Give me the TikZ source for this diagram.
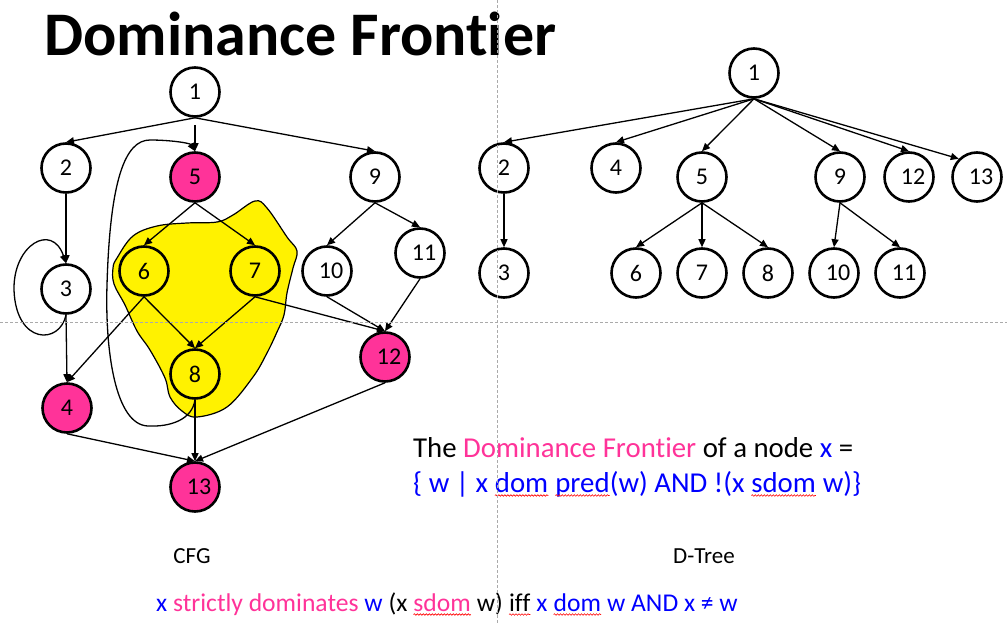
\documentclass[tikz,border=0pt]{standalone}
\usepackage{fontspec}
\setmainfont{Carlito}[Ligatures=NoCommon]
\usetikzlibrary{arrows.meta,decorations.pathmorphing}

\definecolor{dfpink}{HTML}{FF3399}
\definecolor{dfblue}{HTML}{0000FF}
\definecolor{guidegray}{HTML}{AAAAAA}

% red spell-check squiggle under a word
\newcommand\spellwave[1]{\tikz[baseline=(sw.base)]{\node[inner sep=0pt, outer sep=0pt, anchor=base, draw=none, fill=none] (sw) {#1};
  \draw[red, line width=0.6pt, decorate, decoration={snake, amplitude=0.8pt, segment length=3pt}]
    ([yshift=-3.5pt]sw.base west) -- ([yshift=-3.5pt]sw.base east);}}

\begin{document}
\begin{tikzpicture}[
  x=1pt, y=-1pt,
  font=\fontsize{24}{27}\selectfont,
  vert/.style={circle, draw, line width=2.6pt, minimum size=49pt, inner sep=0pt, fill=white},
  hit/.style={vert, fill=dfpink},
  region/.style={vert, fill=yellow},
  wide/.style={execute at begin node=\hspace*{8pt}},
  edge/.style={-{Triangle[length=8pt,width=7pt]}, line width=1.3pt},
  guide/.style={draw=guidegray, line width=0.8pt, dash pattern=on 3pt off 2pt},
  caption/.style={anchor=base, inner sep=0pt, font=\fontsize{23}{26}\selectfont}
]
\useasboundingbox[fill=white] (0,0) rectangle (1007,624);

\node[anchor=base west, inner sep=0pt, font=\fontsize{62}{70}\selectfont\bfseries] (title) at (44,55) {Dominance Frontier};

% region dominated by 5
\draw[fill=yellow, line width=1.2pt] plot[smooth cycle, tension=0.6] coordinates {
  (255,201) (267,208) (287,237) (297,251) (293,268) (287,293) (284,315) (277,332)
  (267,353) (253,377) (227,407) (197,417) (182,411) (170,397) (165,378) (150,350)
  (137,331) (125,305) (114,284) (113,268) (117,258) (133,236) (157,226) (187,223)
  (217,222) (233,215)};

% CFG
\node[vert] (c1) at (195,92) {1};
\node[vert] (c2) at (66,168) {2};
\node[hit] (c5) at (195,177) {5};
\node[vert] (c9) at (375,177) {9};
\node[vert] (c3) at (66,289) {3};
\node[region] (c6) at (144,271) {6};
\node[region] (c7) at (255,271) {7};
\node[vert, wide] (c10) at (327,271) {10};
\node[vert, wide] (c11) at (420,253) {11};
\node[region] (c8) at (195,374) {8};
\node[hit, wide] (c12) at (385,357) {12};
\node[hit] (c4) at (67,408) {4};
\node[hit, wide] (c13) at (195,487) {13};

\draw[edge] (c1.south) -- (c2.north);
\draw[edge, shorten <=7pt] (c1.south) -- (c5.north);
\draw[edge] (c1.south) -- (c9.north);
\draw[edge] (c2.south) -- (c3.north);
\draw[edge] (c3.south) .. controls (60,345) and (16,345) .. (14,290)
  .. controls (13,245) and (52,222) .. (c3.north);
\draw[edge] (c3.south) -- (c4.north);
\draw[edge] (c5.south) -- (c6.north);
\draw[edge] (c5.south) -- (c7.north);
\draw[edge] (c6.south) -- (c8.north);
\draw[edge] (c7.south) -- (c8.north);
\draw[edge] (c6.south) -- (c4.north);
\draw[edge] (c7.south) -- (c12.north);
\draw[edge] (c9.south) -- (c10.north);
\draw[edge] (c9.south) -- (c11.north);
\draw[edge] (c10.south) -- (c12.north);
\draw[edge] (c11.south) -- (c12.north);
\draw[edge] (c8.south) .. controls (192,420) and (170,427) .. (148,426)
  .. controls (115,425) and (105,350) .. (107,285)
  .. controls (110,180) and (125,140) .. (150,140)
  .. controls (170,140) and (190,143) .. (c5.north);
\draw[edge] (c8.south) -- (c13.north);
\draw[edge] (c4.south) -- (c13.north);
\draw[edge] (c12.south) -- (c13.north);

% D-Tree
\node[vert] (t1) at (754,73) {1};
\node[vert] (t2) at (504,168) {2};
\node[vert] (t4) at (616,168) {4};
\node[vert] (t5) at (702,177) {5};
\node[vert] (t9) at (840,177) {9};
\node[vert, wide] (t12) at (909,177) {12};
\node[vert, wide] (t13) at (977,177) {13};
\node[vert] (t3) at (504,273) {3};
\node[vert] (t6) at (636,273) {6};
\node[vert] (t7) at (702,273) {7};
\node[vert] (t8) at (768,273) {8};
\node[vert, wide] (t10) at (834,273) {10};
\node[vert, wide] (t11) at (900,273) {11};

\draw[edge] (t1.south) -- (t2.north);
\draw[edge] (t1.south) -- (t4.north);
\draw[edge] (t1.south) -- (t5.north);
\draw[edge] (t1.south) -- (t9.north);
\draw[edge] (t1.south) -- (t12.north);
\draw[edge] (t1.south) -- (t13.north west);
\draw[edge] (t2.south) -- (t3.north);
\draw[edge] (t5.south) -- (t6.north);
\draw[edge] (t5.south) -- (t7.north);
\draw[edge] (t5.south) -- (t8.north);
\draw[edge] (t9.south) -- (t10.north);
\draw[edge] (t9.south) -- (t11.north);

% texts
\node[anchor=base west, inner sep=0pt, font=\fontsize{28.8}{32}\selectfont] (defA) at (413,457)
  {The \textcolor{dfpink}{Dominance Frontier} of a node \textcolor{dfblue}{x} =};
\node[anchor=base west, inner sep=0pt, font=\fontsize{28.8}{32}\selectfont, text=dfblue] (defB) at (413,492)
  {\{ w | x \spellwave{dom} \spellwave{pred}(w) AND !(x \spellwave{sdom} w)\}};
\node[caption] (cfglabel) at (192,563) {CFG};
\node[caption] (treelabel) at (704,563) {D-Tree};
\node[anchor=base west, inner sep=0pt, font=\fontsize{25.6}{28}\selectfont] (sdomdef) at (156,611)
  {\textcolor{dfblue}{x} \textcolor{dfpink}{strictly dominates} \textcolor{dfblue}{w} (x \textcolor{dfpink}{\spellwave{sdom}} w) \spellwave{iff} \textcolor{dfblue}{x \spellwave{dom} w AND x ≠ w}};

% slide guides
\draw[guide] (497,0) -- (497,624);
\draw[guide] (0,322) -- (1007,322);
\end{tikzpicture}
\end{document}
